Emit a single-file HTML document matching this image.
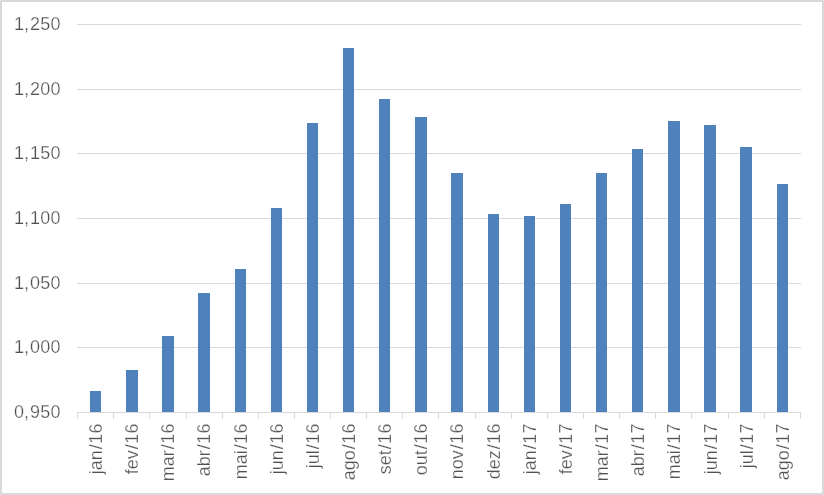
<!DOCTYPE html>
<html lang="pt"><head><meta charset="utf-8"><title>Gráfico</title>
<style>
html,body{margin:0;padding:0;background:#fff;}
body{width:824px;height:495px;overflow:hidden;}
svg{display:block;}
text{font-family:"Liberation Sans",sans-serif;font-size:18px;fill:#525252;stroke:#fff;stroke-width:0.25px;}
.xl text{letter-spacing:0px;}
</style></head><body>
<svg width="824" height="495" viewBox="0 0 824 495">
<rect x="0" y="0" width="824" height="495" fill="#fff"/>
<g shape-rendering="crispEdges">
<rect x="0" y="0" width="824" height="2" fill="#d9d9d9"/>
<rect x="0" y="493" width="824" height="2" fill="#d9d9d9"/>
<rect x="0" y="0" width="2" height="495" fill="#d9d9d9"/>
<rect x="822" y="0" width="2" height="495" fill="#d9d9d9"/>
<rect x="0" y="0" width="1" height="1" fill="#e9e9e9"/>
<rect x="823" y="0" width="1" height="1" fill="#e9e9e9"/>
<rect x="0" y="494" width="1" height="1" fill="#e9e9e9"/>
<rect x="823" y="494" width="1" height="1" fill="#e9e9e9"/>

<rect x="77" y="24" width="724" height="1" fill="#d9d9d9"/>
<rect x="77" y="89" width="724" height="1" fill="#d9d9d9"/>
<rect x="77" y="153" width="724" height="1" fill="#d9d9d9"/>
<rect x="77" y="218" width="724" height="1" fill="#d9d9d9"/>
<rect x="77" y="283" width="724" height="1" fill="#d9d9d9"/>
<rect x="77" y="347" width="724" height="1" fill="#d9d9d9"/>
<rect x="77" y="412" width="724" height="1" fill="#d9d9d9"/>
<rect x="77" y="412" width="1" height="7" fill="#d9d9d9"/>
<rect x="113" y="412" width="1" height="7" fill="#d9d9d9"/>
<rect x="149" y="412" width="1" height="7" fill="#d9d9d9"/>
<rect x="186" y="412" width="1" height="7" fill="#d9d9d9"/>
<rect x="222" y="412" width="1" height="7" fill="#d9d9d9"/>
<rect x="258" y="412" width="1" height="7" fill="#d9d9d9"/>
<rect x="294" y="412" width="1" height="7" fill="#d9d9d9"/>
<rect x="330" y="412" width="1" height="7" fill="#d9d9d9"/>
<rect x="366" y="412" width="1" height="7" fill="#d9d9d9"/>
<rect x="402" y="412" width="1" height="7" fill="#d9d9d9"/>
<rect x="438" y="412" width="1" height="7" fill="#d9d9d9"/>
<rect x="475" y="412" width="1" height="7" fill="#d9d9d9"/>
<rect x="511" y="412" width="1" height="7" fill="#d9d9d9"/>
<rect x="547" y="412" width="1" height="7" fill="#d9d9d9"/>
<rect x="583" y="412" width="1" height="7" fill="#d9d9d9"/>
<rect x="619" y="412" width="1" height="7" fill="#d9d9d9"/>
<rect x="655" y="412" width="1" height="7" fill="#d9d9d9"/>
<rect x="691" y="412" width="1" height="7" fill="#d9d9d9"/>
<rect x="728" y="412" width="1" height="7" fill="#d9d9d9"/>
<rect x="764" y="412" width="1" height="7" fill="#d9d9d9"/>
<rect x="800" y="412" width="1" height="7" fill="#d9d9d9"/>
<rect x="90" y="391" width="11" height="21" fill="#4f81bd"/>
<rect x="126" y="370" width="12" height="42" fill="#4f81bd"/>
<rect x="162" y="336" width="12" height="76" fill="#4f81bd"/>
<rect x="198" y="293" width="12" height="119" fill="#4f81bd"/>
<rect x="235" y="269" width="11" height="143" fill="#4f81bd"/>
<rect x="271" y="208" width="11" height="204" fill="#4f81bd"/>
<rect x="307" y="123" width="11" height="289" fill="#4f81bd"/>
<rect x="343" y="48" width="11" height="364" fill="#4f81bd"/>
<rect x="379" y="99" width="11" height="313" fill="#4f81bd"/>
<rect x="415" y="117" width="12" height="295" fill="#4f81bd"/>
<rect x="451" y="173" width="12" height="239" fill="#4f81bd"/>
<rect x="488" y="214" width="11" height="198" fill="#4f81bd"/>
<rect x="524" y="216" width="11" height="196" fill="#4f81bd"/>
<rect x="560" y="204" width="11" height="208" fill="#4f81bd"/>
<rect x="596" y="173" width="11" height="239" fill="#4f81bd"/>
<rect x="632" y="149" width="11" height="263" fill="#4f81bd"/>
<rect x="668" y="121" width="12" height="291" fill="#4f81bd"/>
<rect x="704" y="125" width="12" height="287" fill="#4f81bd"/>
<rect x="740" y="147" width="12" height="265" fill="#4f81bd"/>
<rect x="777" y="184" width="11" height="228" fill="#4f81bd"/>
</g>
<g text-anchor="end">
<text x="60.4" y="30" dx="0 0 1 0.3 0.1">1,250</text>
<text x="60.4" y="95" dx="0 0 1 0.3 0.1">1,200</text>
<text x="60.4" y="159" dx="0 0 1 0.3 0.1">1,150</text>
<text x="60.4" y="224" dx="0 0 1 0.3 0.1">1,100</text>
<text x="60.4" y="289" dx="0 0 1 0.3 0.1">1,050</text>
<text x="60.4" y="353" dx="0 0 1 0.3 0.1">1,000</text>
<text x="60.4" y="418" dx="0 0 1 0.3 0.1">0,950</text>
</g>
<g class="xl" text-anchor="end">
<text transform="translate(101.98 423.50) rotate(-90)" dx="0 0 0 1.0 0.6 0.1">jan/16</text>
<text transform="translate(138.12 423.50) rotate(-90)" dx="0 0 0 1.0 0.6 0.1">fev/16</text>
<text transform="translate(174.28 423.50) rotate(-90)" dx="0 0 0 1.0 0.6 0.1">mar/16</text>
<text transform="translate(210.42 423.50) rotate(-90)" dx="0 0 0 1.0 0.6 0.1">abr/16</text>
<text transform="translate(246.57 423.50) rotate(-90)" dx="0 0 0 1.0 0.6 0.1">mai/16</text>
<text transform="translate(282.72 423.50) rotate(-90)" dx="0 0 0 1.0 0.6 0.1">jun/16</text>
<text transform="translate(318.88 423.50) rotate(-90)" dx="0 0 0 1.0 0.6 0.1">jul/16</text>
<text transform="translate(355.02 423.50) rotate(-90)" dx="0 0 0 1.0 0.6 0.1">ago/16</text>
<text transform="translate(391.17 423.50) rotate(-90)" dx="0 0 0 1.0 0.6 0.1">set/16</text>
<text transform="translate(427.32 423.50) rotate(-90)" dx="0 0 0 1.0 0.6 0.1">out/16</text>
<text transform="translate(463.47 423.50) rotate(-90)" dx="0 0 0 1.0 0.6 0.1">nov/16</text>
<text transform="translate(499.62 423.50) rotate(-90)" dx="0 0 0 1.0 0.6 0.1">dez/16</text>
<text transform="translate(535.77 423.50) rotate(-90)" dx="0 0 0 1.0 0.6 0.1">jan/17</text>
<text transform="translate(571.92 423.50) rotate(-90)" dx="0 0 0 1.0 0.6 0.1">fev/17</text>
<text transform="translate(608.07 423.50) rotate(-90)" dx="0 0 0 1.0 0.6 0.1">mar/17</text>
<text transform="translate(644.22 423.50) rotate(-90)" dx="0 0 0 1.0 0.6 0.1">abr/17</text>
<text transform="translate(680.38 423.50) rotate(-90)" dx="0 0 0 1.0 0.6 0.1">mai/17</text>
<text transform="translate(716.52 423.50) rotate(-90)" dx="0 0 0 1.0 0.6 0.1">jun/17</text>
<text transform="translate(752.67 423.50) rotate(-90)" dx="0 0 0 1.0 0.6 0.1">jul/17</text>
<text transform="translate(788.82 423.50) rotate(-90)" dx="0 0 0 1.0 0.6 0.1">ago/17</text>
</g>
</svg>
</body></html>
